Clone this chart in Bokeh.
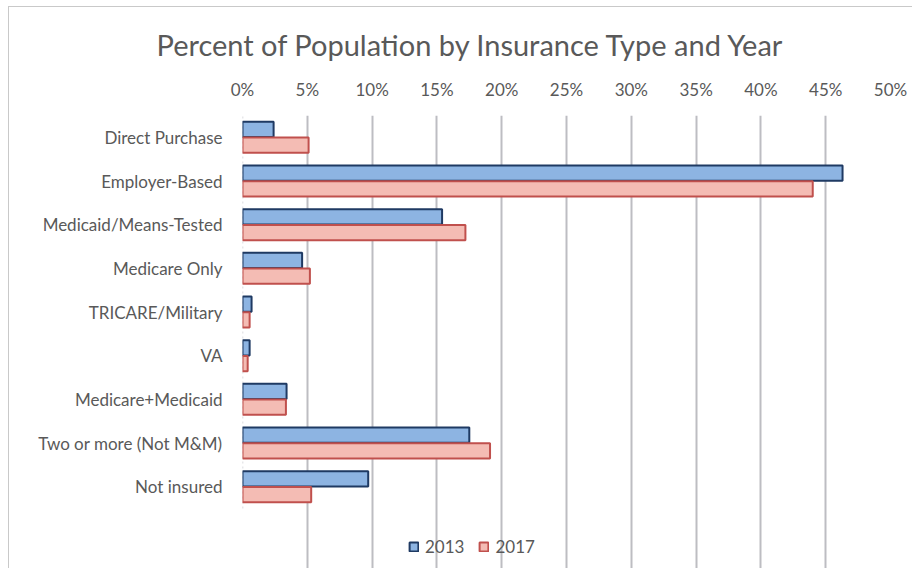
from bokeh.plotting import figure
from bokeh.models import ColumnDataSource, Legend, LegendItem, FixedTicker, NumeralTickFormatter, Title
from bokeh.embed import file_html
from bokeh.resources import INLINE

categories = ["Direct Purchase", "Employer-Based", "Medicaid/Means-Tested", "Medicare Only",
              "TRICARE/Military", "VA", "Medicare+Medicaid", "Two or more (Not M&M)", "Not insured"]
pct_2013 = [2.4, 46.3, 15.4, 4.6, 0.7, 0.55, 3.4, 17.5, 9.7]
pct_2017 = [5.1, 44.0, 17.2, 5.2, 0.55, 0.4, 3.35, 19.1, 5.3]
x_ticks = [0, 5, 10, 15, 20, 25, 30, 35, 40, 45, 50]

n = len(categories)
pos = [n - 1 - i for i in range(n)]  # first category at top
src = ColumnDataSource(dict(
    cat=categories,
    y13=[p_ + 0.18 for p_ in pos],
    y17=[p_ - 0.18 for p_ in pos],
    v13=[v / 100 for v in pct_2013],
    v17=[v / 100 for v in pct_2017],
))

FONT = "Lato"
TXT = "#595959"

p = figure(frame_width=648, frame_height=453, output_backend="svg", toolbar_location=None,
           y_range=(-1.874, n - 0.5), x_range=(0, 0.5), x_axis_location="above",
           min_border_left=233, min_border_right=22, min_border_top=108, min_border_bottom=0,
           outline_line_color=None, border_fill_color="white")

p.xgrid.grid_line_color = "#BDBDC2"
p.xgrid.grid_line_width = 2
p.xgrid.ticker = FixedTicker(ticks=[t / 100 for t in x_ticks[1:]])
p.xgrid.bounds = (-0.5, n - 0.5)
p.ygrid.grid_line_color = None

p.segment(x0=[0], x1=[0], y0=[-0.5], y1=[n - 0.5], line_color="#CFCFD4", line_width=1.5,
          line_dash="2 3")

r1 = p.hbar(y="y13", right="v13", left=0, height=0.35, source=src,
            fill_color="#8DB4E2", line_color="#1F3A63", line_width=2)
r2 = p.hbar(y="y17", right="v17", left=0, height=0.35, source=src,
            fill_color="#F4BCB4", line_color="#C0504D", line_width=2)

p.title = Title(text="Percent of Population by Insurance Type and Year", align="left", offset=-86,
                text_font=FONT, text_font_size="29px", text_font_style="normal", text_color=TXT,
                standoff=27)

xa = p.xaxis[0]
xa.ticker = FixedTicker(ticks=[t / 100 for t in x_ticks])
xa.formatter = NumeralTickFormatter(format="0%")
xa.major_label_text_font = FONT
xa.major_label_text_font_size = "17px"
xa.major_label_text_color = TXT
xa.axis_line_color = None
xa.major_tick_line_color = None
xa.minor_tick_line_color = None
xa.major_tick_out = 0
xa.major_label_standoff = 16

ya = p.yaxis[0]
ya.ticker = FixedTicker(ticks=pos)
ya.major_label_overrides = {p_: c for p_, c in zip(pos, categories)}
ya.major_label_text_font = FONT
ya.major_label_text_font_size = "17px"
ya.major_label_text_color = TXT
ya.axis_line_color = None
ya.major_tick_line_color = None
ya.minor_tick_line_color = None
ya.major_tick_out = 0
ya.major_label_standoff = 20

legend = Legend(items=[LegendItem(label="2013", renderers=[r1]), LegendItem(label="2017", renderers=[r2])],
                orientation="horizontal", location=(166, 11), border_line_color=None,
                background_fill_alpha=0,
                label_text_font=FONT, label_text_font_size="17px", label_text_color=TXT,
                glyph_width=11, glyph_height=11, spacing=14, label_standoff=6,
                margin=0, padding=0)
p.add_layout(legend)

p.styles = {"border-top": "1px solid #C9C9C9", "border-left": "1px solid #C9C9C9",
            "margin-left": "8px", "margin-top": "6px"}

open("out.html", "w").write(file_html(p, INLINE))
